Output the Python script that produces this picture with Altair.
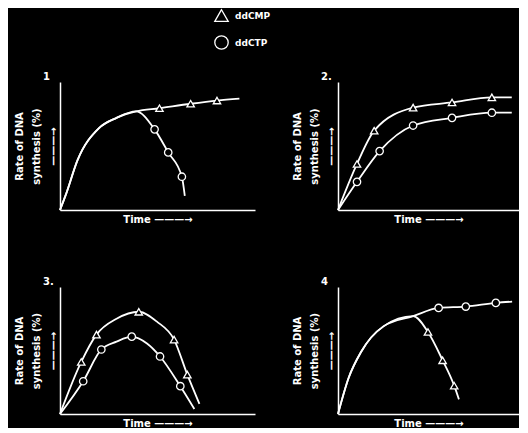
import altair as alt
import pandas as pd

SERIES = ["ddCMP", "ddCTP"]
SHAPES = ["triangle-up", "circle"]
PANEL_LABELS = ["1", "2.", "3.", "4"]
X_TITLE = "Time  \u2014\u2014\u2014\u2192"
Y_TITLE = ["Rate of DNA", "synthesis (%)", "\u2014\u2014\u2014\u2192"]

# Panel 1: common rise, then ddCMP plateau and ddCTP decline
P1_RISE_T = [0, 0.3, 0.9, 2.0, 2.9, 3.9]
P1_RISE_R = [0, 12, 39, 64, 72, 77]
P1_CMP_T = [5.1, 6.7, 8.05, 9.2]
P1_CMP_R = [79.5, 83, 85.5, 87]
P1_CMP_M = [1, 1, 1, 0]
P1_CTP_T = [4.85, 5.55, 6.25, 6.4]
P1_CTP_R = [63, 45, 26, 11]
P1_CTP_M = [1, 1, 1, 0]

# Panel 2: two saturating curves
P2_CMP_T = [0, 1.05, 2.0, 4.15, 6.3, 8.5, 9.6]
P2_CMP_R = [0, 36, 62, 80, 84, 88, 88]
P2_CMP_M = [0, 1, 1, 1, 1, 1, 0]
P2_CTP_T = [0, 1.05, 2.3, 4.15, 6.3, 8.5, 9.6]
P2_CTP_R = [0, 22, 46, 66, 72, 76, 76]
P2_CTP_M = [0, 1, 1, 1, 1, 1, 0]

# Panel 3: two bell-shaped curves
P3_CMP_T = [0, 1.09, 1.87, 2.9, 4.04, 4.97, 5.85, 6.53, 7.15]
P3_CMP_R = [0, 41, 62.5, 75, 80.5, 72.7, 58.6, 31, 8]
P3_CMP_M = [0, 1, 1, 0, 1, 0, 1, 1, 0]
P3_CTP_T = [0, 1.19, 2.12, 2.9, 3.68, 4.46, 5.13, 6.17, 6.89]
P3_CTP_R = [0, 25.8, 50.8, 57, 60.9, 55.5, 45.3, 21.9, 4]
P3_CTP_M = [0, 1, 1, 0, 1, 0, 1, 1, 0]

# Panel 4: common rise, then ddCTP plateau and ddCMP decline
P4_RISE_T = [0, 0.59, 1.28, 2.51, 4.15]
P4_RISE_R = [0, 28.5, 49, 69, 77]
P4_CTP_T = [5.56, 7.06, 8.72, 9.62]
P4_CTP_R = [83.5, 84.6, 87.5, 88.5]
P4_CTP_M = [1, 1, 1, 0]
P4_CMP_T = [4.97, 5.78, 6.42, 6.68]
P4_CMP_R = [64.6, 42.3, 22.3, 11.5]
P4_CMP_M = [1, 1, 1, 0]

FONT = "DejaVu Sans"


def rows(series, ts, rs, ms):
    return [dict(series=series, t=t, r=r, m=m) for t, r, m in zip(ts, rs, ms)]


def rise(series, ts, rs):
    return rows(series, ts, rs, [0] * len(ts))


df1 = pd.DataFrame(
    rise("ddCMP", P1_RISE_T, P1_RISE_R) + rows("ddCMP", P1_CMP_T, P1_CMP_R, P1_CMP_M)
    + rise("ddCTP", P1_RISE_T, P1_RISE_R) + rows("ddCTP", P1_CTP_T, P1_CTP_R, P1_CTP_M)
)
df2 = pd.DataFrame(
    rows("ddCMP", P2_CMP_T, P2_CMP_R, P2_CMP_M) + rows("ddCTP", P2_CTP_T, P2_CTP_R, P2_CTP_M)
)
df3 = pd.DataFrame(
    rows("ddCMP", P3_CMP_T, P3_CMP_R, P3_CMP_M) + rows("ddCTP", P3_CTP_T, P3_CTP_R, P3_CTP_M)
)
df4 = pd.DataFrame(
    rise("ddCTP", P4_RISE_T, P4_RISE_R) + rows("ddCTP", P4_CTP_T, P4_CTP_R, P4_CTP_M)
    + rise("ddCMP", P4_RISE_T, P4_RISE_R) + rows("ddCMP", P4_CMP_T, P4_CMP_R, P4_CMP_M)
)

LEGEND = alt.Legend(
    orient="none", legendX=154, legendY=-74, direction="vertical", title=None,
    symbolSize=180, symbolStrokeColor="white", symbolFillColor="black",
    symbolStrokeWidth=1.3, symbolOpacity=1, labelColor="white", labelFont=FONT,
    labelFontSize=9, labelFontWeight="bold", rowPadding=9, labelOffset=6,
)


def panel(df, label, w, h):
    base = alt.Chart(df)
    x_axis = alt.Axis(title=X_TITLE, domainColor="white", domainWidth=1.5, ticks=False,
                      labels=False, grid=False, titleColor="white", titleFont=FONT,
                      titleFontSize=10, titleFontWeight="bold", titlePadding=4)
    y_axis = alt.Axis(title=Y_TITLE, domainColor="white", domainWidth=1.5, ticks=False,
                      labels=False, grid=False, titleColor="white", titleFont=FONT,
                      titleFontSize=10, titleFontWeight="bold", titlePadding=2,
                      titleLineHeight=17)
    x = alt.X("t:Q", scale=alt.Scale(domain=[0, 10], nice=False), axis=x_axis)
    y = alt.Y("r:Q", scale=alt.Scale(domain=[0, 100], nice=False), axis=y_axis)
    line = base.mark_line(color="white", strokeWidth=1.8, interpolate="monotone").encode(
        x=x, y=y, detail="series:N")
    pts = base.transform_filter("datum.m == 1").mark_point(
        filled=False, fill="black", strokeWidth=1.3, size=55, opacity=1
    ).encode(
        x="t:Q", y="r:Q",
        color=alt.Color("series:N", scale=alt.Scale(domain=SERIES, range=["white", "white"]),
                        legend=LEGEND),
        shape=alt.Shape("series:N", scale=alt.Scale(domain=SERIES, range=SHAPES), legend=LEGEND),
    )
    return alt.layer(line, pts).properties(
        width=w, height=h,
        title=alt.TitleParams(label, anchor="start", frame="group", dx=-17, color="white",
                              font=FONT, fontSize=10, fontWeight="bold", offset=0),
    )


row1 = alt.hconcat(panel(df1, PANEL_LABELS[0], 195, 128), panel(df2, PANEL_LABELS[1], 181, 128), spacing=37)
row2 = alt.hconcat(panel(df3, PANEL_LABELS[2], 195, 127), panel(df4, PANEL_LABELS[3], 181, 127), spacing=37)

chart = alt.vconcat(row1, row2, spacing=53).properties(
    background="black",
    padding={"left": 6, "top": 0, "right": 0, "bottom": 0},
).configure_view(stroke=None)

chart.save("out.html", embed_options={"renderer": "svg", "actions": False})
